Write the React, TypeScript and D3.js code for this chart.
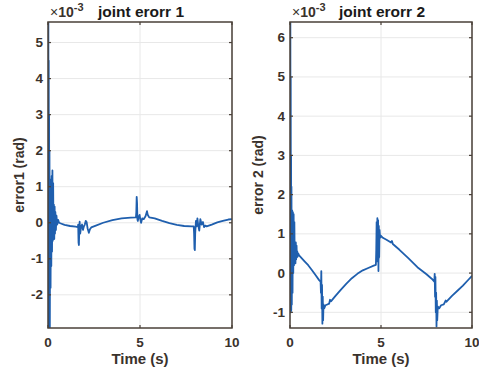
import React from "react";
import * as d3 from "d3";

// ---- data (values in units of 1e-3 rad) ----
const xTicks = [0, 5, 10];
const yTicks1 = [-2, -1, 0, 1, 2, 3, 4, 5];
const yTicks2 = [-1, 0, 1, 2, 3, 4, 5, 6];

const time1 = [
  0, 0.005, 0.01, 0.02, 0.03, 0.04, 0.05, 0.06, 0.07, 0.08, 0.1, 0.12, 0.14, 0.16, 0.18, 0.2, 0.22, 0.24,
  0.26, 0.28, 0.3, 0.32, 0.34, 0.36, 0.38, 0.4, 0.43, 0.46, 0.5, 0.55, 0.6,
  0.7, 0.9, 1.2, 1.5, 1.62,
  1.64, 1.66, 1.68, 1.7, 1.72, 1.75, 1.8, 1.85, 1.9, 1.95, 2.0, 2.05, 2.1, 2.15, 2.22, 2.28, 2.35,
  2.6, 3.0, 3.5, 4.0, 4.5, 4.78,
  4.8, 4.82, 4.84, 4.86, 4.88, 4.92, 4.98, 5.02, 5.06, 5.12, 5.2, 5.3, 5.38, 5.42, 5.5,
  5.8, 6.2, 6.6, 7.0, 7.4, 7.8, 7.92,
  7.94, 7.96, 7.98, 8.0, 8.04, 8.08, 8.12, 8.16, 8.22, 8.28, 8.35, 8.42, 8.48, 8.55, 8.62,
  8.9, 9.2, 9.5, 9.8, 10,
];
const error1 = [
  0, 6.0, -3.2, 5.8, -3.1, 4.5, -3.0, 3.0, -3.0, 2.0, -2.9, 1.2, -1.8, 1.0, -1.2, 1.3, -0.8, 1.45,
  -0.5, 1.1, -0.4, 0.5, -0.45, 0.45, -0.3, 0.3, -0.2, 0.2, -0.05, 0.08, 0.0,
  -0.02, -0.06, -0.09, -0.11, -0.12,
  -0.05, -0.55, -0.62, -0.2, 0.03, -0.3, -0.1, -0.05, -0.2, -0.1, -0.05, 0.05, 0.02, -0.15, -0.28, -0.18, -0.13,
  -0.08, 0.0, 0.07, 0.12, 0.14, 0.15,
  0.3, 0.72, 0.55, 0.1, 0.05, 0.15, 0.22, 0.08, 0.0, 0.12, 0.1, 0.18, 0.32, 0.22, 0.15,
  0.12, 0.05, -0.01, -0.06, -0.09, -0.1, -0.1,
  -0.3, -0.72, -0.76, -0.3, 0.05, -0.1, 0.12, -0.05, -0.22, 0.1, -0.05, 0.02, -0.12, -0.08, -0.1,
  -0.05, 0.01, 0.05, 0.09, 0.1,
];

const time2 = [
  0, 0.005, 0.01, 0.02, 0.03, 0.04, 0.05, 0.06, 0.07, 0.08, 0.1, 0.12, 0.14, 0.16, 0.18, 0.2, 0.22, 0.24,
  0.26, 0.28, 0.3, 0.32, 0.34, 0.36, 0.38, 0.4, 0.42, 0.45, 0.5,
  0.6, 0.8, 1.0, 1.2, 1.4, 1.6, 1.68,
  1.7, 1.72, 1.74, 1.76, 1.78, 1.8, 1.82, 1.84, 1.88, 1.95, 2.05, 2.15, 2.2, 2.25,
  2.5, 2.8, 3.1, 3.4, 3.7, 4.0, 4.3, 4.6, 4.72,
  4.74, 4.76, 4.78, 4.8, 4.82, 4.84, 4.86, 4.88, 4.9, 4.92, 4.95, 5.0, 5.1, 5.3, 5.55, 5.6, 5.65,
  6.0, 6.5, 7.0, 7.5, 7.8, 7.93,
  7.95, 7.97, 7.99, 8.01, 8.03, 8.05, 8.07, 8.09, 8.12, 8.2, 8.3, 8.45, 8.55, 8.6,
  8.9, 9.2, 9.5, 9.8, 10,
];
const error2 = [
  0, 7.0, -0.9, 6.8, -1.0, 5.0, -1.0, 3.0, -0.95, 2.2, -0.8, 1.6, -0.5, 1.55, 0.0, 1.5, 0.2, 1.3,
  0.3, 0.75, 0.25, 0.78, 0.35, 0.7, 0.4, 0.55, 0.42, 0.5, 0.45,
  0.4, 0.3, 0.2, 0.08, -0.05, -0.18, -0.22,
  -0.5, 0.05, -0.9, -0.3, -1.29, -0.6, -1.2, -0.8, -0.9, -0.82, -0.8, -0.78, -0.68, -0.72,
  -0.58, -0.42, -0.27, -0.13, -0.02, 0.07, 0.13, 0.19, 0.21,
  0.6, 1.3, 0.3, 1.4, 0.5, 1.35, 0.05, 1.2, 0.4, 1.1, 0.9, 0.95, 0.9, 0.85, 0.78, 0.82, 0.74,
  0.6, 0.38, 0.15, -0.03, -0.15, -0.22,
  -0.02, -0.6, -0.1, -1.0, -0.5, -1.36, -0.7, -1.2, -0.85, -0.9, -0.82, -0.8, -0.7, -0.73,
  -0.58, -0.45, -0.32, -0.17, -0.07,
];

const AXIS = "#4a4038";
const TEXT = "#3a322c";
const LINE = "#1f5fae";
const GRID = "#e8e8e8";
const FONT = "Liberation Sans, Arial, sans-serif";

type PanelProps = {
  left: number;
  right: number;
  top: number;
  bottom: number;
  yDomain: [number, number];
  yTicks: number[];
  t: number[];
  v: number[];
  title: string;
  ylabel: string;
  ylabelX: number;
  id: string;
};

function Panel(p: PanelProps) {
  const x = d3.scaleLinear().domain([0, 10]).range([p.left, p.right]);
  const y = d3.scaleLinear().domain(p.yDomain).range([p.bottom, p.top]);
  const pts: [number, number][] = p.t.map((tt, i) => [tt, p.v[i]]);
  const line = d3
    .line<[number, number]>()
    .x((d) => x(d[0]))
    .y((d) => y(d[1]));
  const cx = (p.left + p.right) / 2;
  const cy = (p.top + p.bottom) / 2;
  const tl = 3;
  return (
    <g>
      <defs>
        <clipPath id={p.id}>
          <rect x={p.left} y={p.top} width={p.right - p.left} height={p.bottom - p.top} />
        </clipPath>
      </defs>
      <rect x={p.left} y={p.top} width={p.right - p.left} height={p.bottom - p.top} fill="#fff" />
      {xTicks.map((t) => (
        <line key={"gx" + t} x1={x(t)} x2={x(t)} y1={p.top} y2={p.bottom} stroke={GRID} strokeWidth={1} />
      ))}
      {p.yTicks.map((t) => (
        <line key={"gy" + t} x1={p.left} x2={p.right} y1={y(t)} y2={y(t)} stroke={GRID} strokeWidth={1} />
      ))}
      <path d={line(pts) || ""} fill="none" stroke={LINE} strokeWidth={1.8} clipPath={`url(#${p.id})`} strokeLinejoin="round" />
      {xTicks.map((t) => (
        <g key={"tx" + t}>
          <line x1={x(t)} x2={x(t)} y1={p.bottom} y2={p.bottom - tl} stroke={AXIS} strokeWidth={1.2} />
          <line x1={x(t)} x2={x(t)} y1={p.top} y2={p.top + tl} stroke={AXIS} strokeWidth={1.2} />
          <text x={x(t)} y={p.bottom + 19} textAnchor="middle" fontFamily={FONT} fontWeight="bold" fontSize={13.5} fill={TEXT}>
            {t}
          </text>
        </g>
      ))}
      {p.yTicks.map((t) => (
        <g key={"ty" + t}>
          <line x1={p.left} x2={p.left + tl} y1={y(t)} y2={y(t)} stroke={AXIS} strokeWidth={1.2} />
          <line x1={p.right} x2={p.right - tl} y1={y(t)} y2={y(t)} stroke={AXIS} strokeWidth={1.2} />
          <text x={p.left - 5} y={y(t) + 4.5} textAnchor="end" fontFamily={FONT} fontWeight="bold" fontSize={13.5} fill={TEXT}>
            {t}
          </text>
        </g>
      ))}
      <rect x={p.left} y={p.top} width={p.right - p.left} height={p.bottom - p.top} fill="none" stroke={AXIS} strokeWidth={1.5} />
      <text x={cx + 1} y={17} textAnchor="middle" fontFamily={FONT} fontWeight="bold" fontSize={15.5} fill="#1a1a1a">
        {p.title}
      </text>
      <text x={p.left + 2} y={17} fontFamily={FONT} fontSize={14} fill={TEXT}>
        <tspan>×</tspan>
        <tspan fontWeight="bold">10</tspan>
        <tspan fontWeight="bold" fontSize={11} dy={-6}>-3</tspan>
      </text>
      <text x={cx} y={364} textAnchor="middle" fontFamily={FONT} fontWeight="bold" fontSize={15} fill={TEXT}>
        Time (s)
      </text>
      <text
        transform={`translate(${p.ylabelX},${cy}) rotate(-90)`}
        textAnchor="middle"
        fontFamily={FONT}
        fontWeight="bold"
        fontSize={14}
        fill={TEXT}
      >
        {p.ylabel}
      </text>
    </g>
  );
}

export default function App() {
  return (
    <svg width={479} height={370} style={{ position: "absolute", left: 0, top: 0, background: "#fff" }}>
      <rect width={479} height={370} fill="#fff" />
      <Panel id="c1" left={48} right={232} top={22} bottom={328} yDomain={[-2.92, 5.57]} yTicks={yTicks1} t={time1} v={error1} title="joint erorr 1" ylabel="error1 (rad)" ylabelX={24} />
      <Panel id="c2" left={290} right={472} top={22} bottom={328} yDomain={[-1.4, 6.4]} yTicks={yTicks2} t={time2} v={error2} title="joint erorr 2" ylabel="error 2 (rad)" ylabelX={263} />
    </svg>
  );
}
